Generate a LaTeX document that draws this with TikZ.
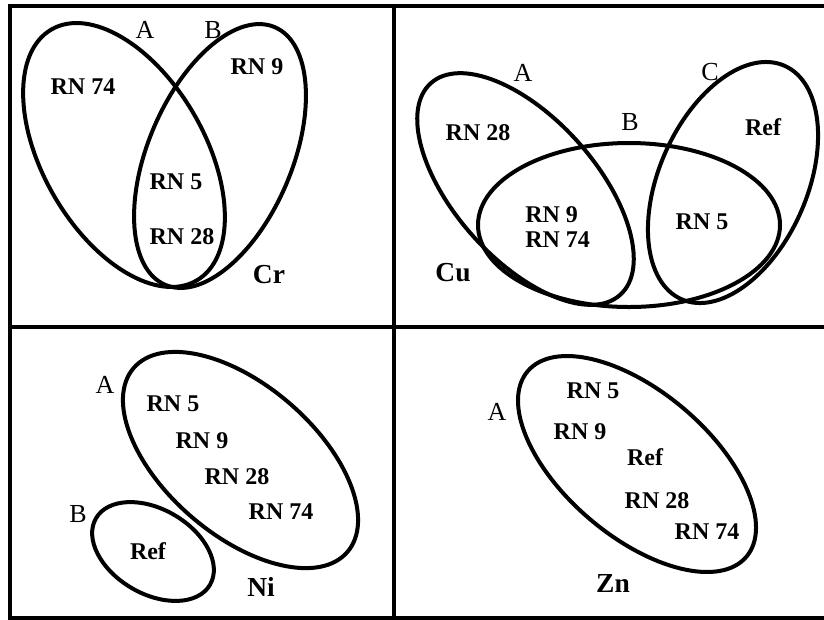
\documentclass[tikz,border=0pt]{standalone}
\usepackage{fontspec}
\setmainfont{Liberation Serif}
\begin{document}
\begin{tikzpicture}[x=0.75pt,y=-0.75pt,
  ell/.style={line width=3pt},
  framel/.style={line width=3pt},
  rn/.style={font=\fontsize{18}{20}\selectfont\bfseries, inner sep=0pt},
  elem/.style={font=\fontsize{20.6}{22}\selectfont\bfseries, inner sep=0pt},
  setlab/.style={font=\fontsize{19.5}{21}\selectfont, inner sep=0pt}]
\useasboundingbox (0,0) rectangle (824,619);
% frame
\draw[framel] (824,5.5) -- (10,5.5) -- (10,617.5) -- (824,617.5);
\draw[framel] (394,5.5) -- (394,617.5);
\draw[framel] (10,327) -- (824,327);
% Cr panel
\draw[ell, rotate around={-60:(124,155)}] (124,155) ellipse [x radius=145, y radius=81];
\draw[ell, rotate around={67:(220,156)}] (220,156) ellipse [x radius=140, y radius=72];
\node[setlab] (crA) at (145,30) {A};
\node[setlab] (crB) at (213,30) {B};
\node[rn] (cr74) at (83,87) {RN 74};
\node[rn] (cr9) at (257,67) {RN 9};
\node[rn] (cr5) at (176,182) {RN 5};
\node[rn] (cr28) at (182,237) {RN 28};
\node[elem] (cr) at (269,275) {Cr};
% Cu panel
\draw[ell, rotate around={-48.2:(525.5,189)}] (525.5,189) ellipse [x radius=142, y radius=70.5];
\draw[ell] (629,225) ellipse [x radius=151, y radius=82];
\draw[ell, rotate around={66.2:(733,182.5)}] (733,182.5) ellipse [x radius=127.6, y radius=74];
\node[setlab] (cuA) at (523,73) {A};
\node[setlab] (cuB) at (630,122) {B};
\node[setlab] (cuC) at (710,72) {C};
\node[rn] (cu28) at (478,133) {RN 28};
\node[rn, align=left, anchor=west] (cu974) at (525,227) {RN 9\\[-1pt]RN 74};
\node[rn] (cu5) at (702,222) {RN 5};
\node[rn] (curef) at (763,127) {Ref};
\node[elem] (cu) at (453,273) {Cu};
% Ni panel
\draw[ell, rotate around={-40.7:(240.5,460)}] (240.5,460) ellipse [x radius=141, y radius=75];
\draw[ell, rotate around={-30.3:(153,551.5)}] (153,551.5) ellipse [x radius=66, y radius=42.3];
\node[setlab] (niA) at (105,385) {A};
\node[setlab] (niB) at (78,514) {B};
\node[rn] (ni5) at (173,404) {RN 5};
\node[rn] (ni9) at (202,441) {RN 9};
\node[rn] (ni28) at (237,477) {RN 28};
\node[rn] (ni74) at (281,512) {RN 74};
\node[rn] (niref) at (148,551) {Ref};
\node[elem] (ni) at (261,587) {Ni};
% Zn panel
\draw[ell, rotate around={-40.3:(637,464)}] (637,464) ellipse [x radius=143.4, y radius=72.5];
\node[setlab] (znA) at (497,412) {A};
\node[rn] (zn5) at (593,391) {RN 5};
\node[rn] (zn9) at (580,432) {RN 9};
\node[rn] (znref) at (645,457) {Ref};
\node[rn] (zn28) at (657,501) {RN 28};
\node[rn] (zn74) at (707,532) {RN 74};
\node[elem] (zn) at (613,583) {Zn};
\end{tikzpicture}
\end{document}
